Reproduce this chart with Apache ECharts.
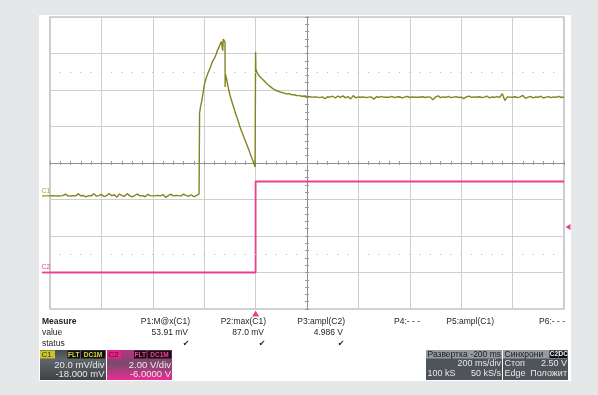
<!DOCTYPE html>
<html>
<head>
<meta charset="utf-8">
<script src="https://cdn.jsdelivr.net/npm/echarts@6/dist/echarts.min.js"></script>
<style>
  html, body { margin: 0; padding: 0; background: #e6e7e8; }
  #chart { width: 598px; height: 395px; }
</style>
</head>
<body>
<div id="chart"></div>
<script>
// time in ms (trigger at 0), C1 in mV, C2 in V
const c1Baseline = [
  [-800, 0], [-790, 0.1], [-780, 0], [-770, -0.1], [-760, 0], [-750, 0.1], [-740, 0.9], [-730, 0],
  [-720, -0.1], [-710, 0.1], [-700, 0], [-690, 1.1], [-680, 0], [-670, 0.2], [-660, -0.6], [-650, 0.1],
  [-640, 0], [-630, 1.2], [-620, -0.1], [-610, 0.1], [-600, 0.8], [-590, -0.4], [-580, 0.1], [-570, 1.3],
  [-560, 0], [-550, 0.6], [-540, -0.7], [-530, 1.0], [-520, 0.1], [-510, -0.2], [-500, 1.2], [-490, 0.1],
  [-480, -0.6], [-470, 0.2], [-460, 0.9], [-450, 0], [-440, 0.1], [-430, -0.5], [-420, 0.8], [-410, 0.1],
  [-400, 0], [-390, 0.1], [-380, 0.2], [-370, 0], [-360, 0.7], [-350, -0.8], [-340, 0.1], [-330, 0.9],
  [-320, 0], [-310, 0.2], [-300, 0.1], [-290, 0], [-280, 0.9], [-270, 0.1], [-260, -0.2], [-250, 0.6],
  [-240, -0.5], [-230, 0.2], [-220, 1.0], [-219, 0.3]
];
const c1Pulse = [
  [-218, 45.4], [-214, 49], [-210, 51.6], [-205, 55.8], [-201, 59.6], [-197, 62.5], [-193, 64.2], [-188, 66.3],
  [-185, 66.0], [-182, 68.4], [-177, 70.1], [-172, 72], [-168, 73.6], [-164, 73.2], [-160, 75.4], [-156, 76.8],
  [-152, 78.1], [-149, 79.5], [-146, 78.6], [-143, 81.2], [-140, 82.4], [-136, 83.3], [-133, 84.6], [-130, 85.5],
  [-128, 79.5], [-126, 85.8], [-124, 86.3], [-122, 86.8], [-120, 87.0], [-119, 84.5], [-118.5, 59.6], [-118, 66.8],
  [-115, 65.2], [-112, 63.5], [-108, 60.4], [-104, 57.8], [-100, 55.3], [-95, 52.9], [-90, 50.6], [-85, 48.4],
  [-80, 46.1], [-75, 43.9], [-70, 42.0], [-65, 39.8], [-61, 37.9], [-56, 35.9], [-51, 34.1], [-46, 32.3],
  [-41, 30.6], [-36, 28.7], [-31, 26.9], [-26, 25.1], [-22, 23.5], [-17, 21.6], [-12, 19.8], [-7, 17.9],
  [-2, 15.8], [-0.5, 15.2], [0, 78.8], [1, 69.5], [5, 67.8], [10, 66.5], [15, 65.6], [20, 64.8], [25, 64.0],
  [30, 63.5], [35, 62.6], [40, 62.0], [45, 61.3], [50, 60.7], [56, 60.2], [62, 59.3], [68, 58.8], [75, 58.0],
  [82, 57.8], [88, 57.3], [95, 57.1], [102, 56.6], [110, 56.4], [118, 55.9], [126, 56.0], [134, 55.8],
  [142, 55.3], [150, 55.4], [160, 55.0], [170, 54.9], [180, 54.6], [192, 54.7], [200, 54.4]
];
const c1Settle = [
  [210, 54.3], [220, 54.1], [230, 54.2], [240, 54.1], [250, 53.8], [260, 54.2], [270, 53.2], [280, 54.3],
  [290, 54.1], [300, 54.6], [310, 53.6], [320, 54.7], [330, 54.0], [340, 54.8], [350, 53.7], [360, 54.4],
  [370, 53.1], [380, 54.9], [390, 53.7], [400, 54.2], [410, 54.0], [420, 54.2], [430, 53.8], [440, 54.1],
  [450, 54.2], [460, 53.0], [470, 54.3], [480, 54.0], [490, 54.5], [500, 54.0], [510, 54.1], [520, 54.0],
  [530, 54.5], [540, 53.8], [550, 54.2], [560, 54.3], [570, 53.7], [580, 54.1], [590, 54.5], [600, 53.9],
  [610, 54.2], [620, 54.0], [630, 54.1], [640, 54.0], [650, 54.3], [660, 53.9], [670, 54.2], [680, 54.1],
  [690, 52.6], [700, 54.2], [710, 54.8], [720, 53.8], [730, 54.2], [740, 54.0], [750, 54.5], [760, 53.8],
  [770, 54.1], [780, 54.4], [790, 53.9], [800, 54.1], [810, 53.3], [820, 54.2], [830, 54.6], [840, 53.9],
  [850, 54.2], [860, 54.0], [870, 54.3], [880, 53.9], [890, 54.1], [900, 54.7], [910, 53.7], [920, 54.2],
  [930, 54.0], [940, 54.4], [950, 54.0], [960, 56.0], [970, 52.3], [980, 54.2], [990, 54.1], [1000, 54.0],
  [1010, 54.3], [1020, 53.8], [1030, 54.2], [1040, 55.0], [1050, 53.4], [1060, 54.1], [1070, 54.5], [1080, 53.7],
  [1090, 54.2], [1100, 54.0], [1110, 54.6], [1120, 53.6], [1130, 54.1], [1140, 54.4], [1150, 53.8], [1160, 54.2],
  [1170, 54.0], [1180, 54.5], [1190, 53.9], [1200, 54.2]
];
const c2Points = [[-800, 0], [0, 0], [0, 4.986], [1200, 4.986]];

const measureNames = ['P1:M@x(C1)', 'P2:max(C1)', 'P3:ampl(C2)', 'P4:- - -', 'P5:ampl(C1)', 'P6:- - -'];
const measureValues = ['53.91 mV', '87.0 mV', '4.986 V', '', '', ''];
const measureStatus = [true, true, true, false, false, false];
const measureRight = [190, 266, 345, 420, 494, 565];

const c1Color = '#838322';
const c2Color = '#e8408e';
const font = '"Liberation Sans", Arial, sans-serif';

const chart = echarts.init(document.getElementById('chart'));

function divAxis(extra) {
  return Object.assign({
    type: 'value', min: -5, max: 5, interval: 1,
    axisLine: { onZero: true, onZeroAxisIndex: 0, lineStyle: { color: '#8f8f8f', width: 1 } },
    axisTick: { show: true, length: 2, lineStyle: { color: '#9a9a9a' } },
    minorTick: { show: true, splitNumber: 5, length: 2, lineStyle: { color: '#9a9a9a' } },
    axisLabel: { show: false },
    splitLine: { show: false }
  }, extra);
}

function txt(x, y, text, opt) {
  return {
    type: 'text', x: x, y: y, z: 20, silent: true,
    style: Object.assign({ text: text, font: '8.5px ' + font, fill: '#1e1e1e', align: 'left', verticalAlign: 'middle' }, opt)
  };
}
function box(x, y, w, h, fill, z) {
  return { type: 'rect', z: z || 15, silent: true, shape: { x: x, y: y, width: w, height: h }, style: { fill: fill } };
}

const graphics = [
  box(39, 15, 532, 366, '#ffffff', -10),
  txt(42, 322, 'Measure', { font: 'bold 8.5px ' + font }),
  txt(42, 332.5, 'value'),
  txt(42, 343.5, 'status')
];
measureNames.forEach((n, i) => {
  graphics.push(txt(measureRight[i], 322, n, { align: 'right' }));
  if (measureValues[i]) graphics.push(txt(measureRight[i] - 2, 332.5, measureValues[i], { align: 'right' }));
  if (measureStatus[i]) graphics.push(txt(measureRight[i] - 4, 343.5, '\u2714', { align: 'center', font: '8px "DejaVu Sans", sans-serif' }));
});

// channel boxes
const grey = new echarts.graphic.LinearGradient(0, 0, 0, 1, [
  { offset: 0, color: '#464b51' }, { offset: 0.3, color: '#60656b' }, { offset: 1, color: '#3f4348' }
]);
const pink = new echarts.graphic.LinearGradient(0, 0, 0, 1, [
  { offset: 0, color: '#b73382' }, { offset: 0.45, color: '#7a4a6c' }, { offset: 1, color: '#ea2d93' }
]);
graphics.push(
  box(40, 350, 66, 30, grey),
  box(40, 350.5, 15, 8, '#c9c22a', 16), txt(41.5, 354.8, 'C1', { font: '8px ' + font, fill: '#3a3a10', z: 21 }),
  box(67.5, 350.5, 12.5, 8, '#111', 16), txt(73.8, 354.8, 'FLT', { font: 'bold 6.5px ' + font, fill: '#e2d545', align: 'center' }),
  box(81, 350.5, 24, 8, '#111', 16), txt(93, 354.8, 'DC1M', { font: 'bold 6.5px ' + font, fill: '#e2d545', align: 'center' }),
  txt(104.5, 365, '20.0 mV/div', { align: 'right', fill: '#e6e6e6', font: '9.5px ' + font }),
  txt(104.5, 374.5, '-18.000 mV', { align: 'right', fill: '#e6e6e6', font: '9.5px ' + font }),

  box(107, 350, 65, 30, pink),
  box(107, 350.5, 14, 8, '#e3238a', 16), txt(108.5, 354.8, 'C2', { font: '8px ' + font, fill: '#5a0830' }),
  box(134, 350.5, 12.5, 8, '#111', 16), txt(140.2, 354.8, 'FLT', { font: 'bold 6.5px ' + font, fill: '#ff3d9f', align: 'center' }),
  box(147.5, 350.5, 24, 8, '#111', 16), txt(159.5, 354.8, 'DC1M', { font: 'bold 6.5px ' + font, fill: '#ff3d9f', align: 'center' }),
  txt(171, 365, '2.00 V/div', { align: 'right', fill: '#f0e6ee', font: '9.5px ' + font }),
  txt(171, 374.5, '-6.0000 V', { align: 'right', fill: '#f0e6ee', font: '9.5px ' + font }),

  box(426, 350, 76, 30, '#4f545a'),
  box(426, 350, 76, 8.5, '#959ba2', 16),
  txt(427.5, 354.5, 'Развертка', { font: '8.5px ' + font, fill: '#1c1c1c' }),
  txt(501, 354.5, '-200 ms', { font: '8.5px ' + font, fill: '#1c1c1c', align: 'right' }),
  txt(501, 364, '200 ms/div', { align: 'right', fill: '#e6e6e6', font: '9px ' + font }),
  txt(427.5, 374, '100 kS', { fill: '#e6e6e6', font: '9px ' + font }),
  txt(501, 374, '50 kS/s', { align: 'right', fill: '#e6e6e6', font: '9px ' + font }),

  box(503, 350, 65, 30, '#4f545a'),
  box(503, 350, 65, 8.5, '#959ba2', 16),
  txt(504.5, 354.5, 'Синхрони', { font: '8.5px ' + font, fill: '#1c1c1c' }),
  box(549.5, 350.5, 9, 7.5, '#111', 17), txt(554, 354.5, 'C2', { font: 'bold 6.5px ' + font, fill: '#f0f0f0', align: 'center' }),
  box(559, 350.5, 8.5, 7.5, '#111', 17), txt(563.3, 354.5, 'DC', { font: 'bold 6.5px ' + font, fill: '#f0f0f0', align: 'center' }),
  txt(504.5, 364, 'Стоп', { fill: '#e6e6e6', font: '9px ' + font }),
  txt(567, 364, '2.50 V', { align: 'right', fill: '#e6e6e6', font: '9px ' + font }),
  txt(504.5, 374, 'Edge', { fill: '#e6e6e6', font: '9px ' + font }),
  txt(567, 374, 'Положит', { align: 'right', fill: '#e6e6e6', font: '9px ' + font })
);

chart.setOption({
  animation: false,
  backgroundColor: 'transparent',
  grid: { left: 50, top: 17, width: 514, height: 292, show: true, borderColor: '#a9a9a9', borderWidth: 1.2 },
  xAxis: [
    divAxis({ position: 'bottom', splitLine: { show: true, lineStyle: { color: '#cfcfcf' } } }),
    divAxis({ position: 'top' }),
    { type: 'value', min: -800, max: 1200, show: false }
  ],
  yAxis: [
    divAxis({ min: -4, max: 4, position: 'left', splitLine: { show: true, lineStyle: { color: '#cfcfcf' } } }),
    divAxis({ min: -4, max: 4, position: 'right' }),
    { type: 'value', min: -62, max: 98, show: false },
    { type: 'value', min: -2, max: 14, show: false }
  ],
  graphic: graphics,
  series: [
    {
      name: 'graticule', type: 'line', xAxisIndex: 0, yAxisIndex: 0, data: [], silent: true,
      markLine: {
        silent: true, symbol: 'none', label: { show: false },
        lineStyle: { color: '#bdbdbd', width: 1.2, type: [1.2, 9.08], dashOffset: 0.6 },
        data: [{ yAxis: 2.5 }, { yAxis: -2.5 }]
      }
    },
    {
      name: 'C2', type: 'line', xAxisIndex: 2, yAxisIndex: 3, data: c2Points,
      showSymbol: false, lineStyle: { color: c2Color, width: 1.8 }, z: 3,
      markPoint: {
        silent: true,
        data: [
          { coord: [-800, 0], symbol: 'rect', symbolSize: [8, 1.8], symbolOffset: [-4, 0], itemStyle: { color: c2Color },
            label: { show: true, formatter: 'C2', position: 'top', distance: 1, color: c2Color, fontSize: 7, fontFamily: font } },
          { coord: [0, -2], symbol: 'triangle', symbolSize: [7, 6], symbolOffset: [0, 4.5], itemStyle: { color: c2Color }, label: { show: false } },
          { coord: [1200, 2.5], symbol: 'triangle', symbolRotate: 90, symbolSize: [6, 5], symbolOffset: [4, 0], itemStyle: { color: c2Color }, label: { show: false } }
        ]
      }
    },
    {
      name: 'C1', type: 'line', xAxisIndex: 2, yAxisIndex: 2,
      data: c1Baseline.concat(c1Pulse, c1Settle),
      showSymbol: false, lineStyle: { color: c1Color, width: 1.4 }, z: 4,
      markPoint: {
        silent: true,
        data: [
          { coord: [-800, 0], symbol: 'rect', symbolSize: [8, 1.5], symbolOffset: [-4, 0], itemStyle: { color: '#a9a930' },
            label: { show: true, formatter: 'C1', position: 'top', distance: 1, color: '#a9a930', fontSize: 7, fontFamily: font } }
        ]
      }
    }
  ]
});
</script>
</body>
</html>
